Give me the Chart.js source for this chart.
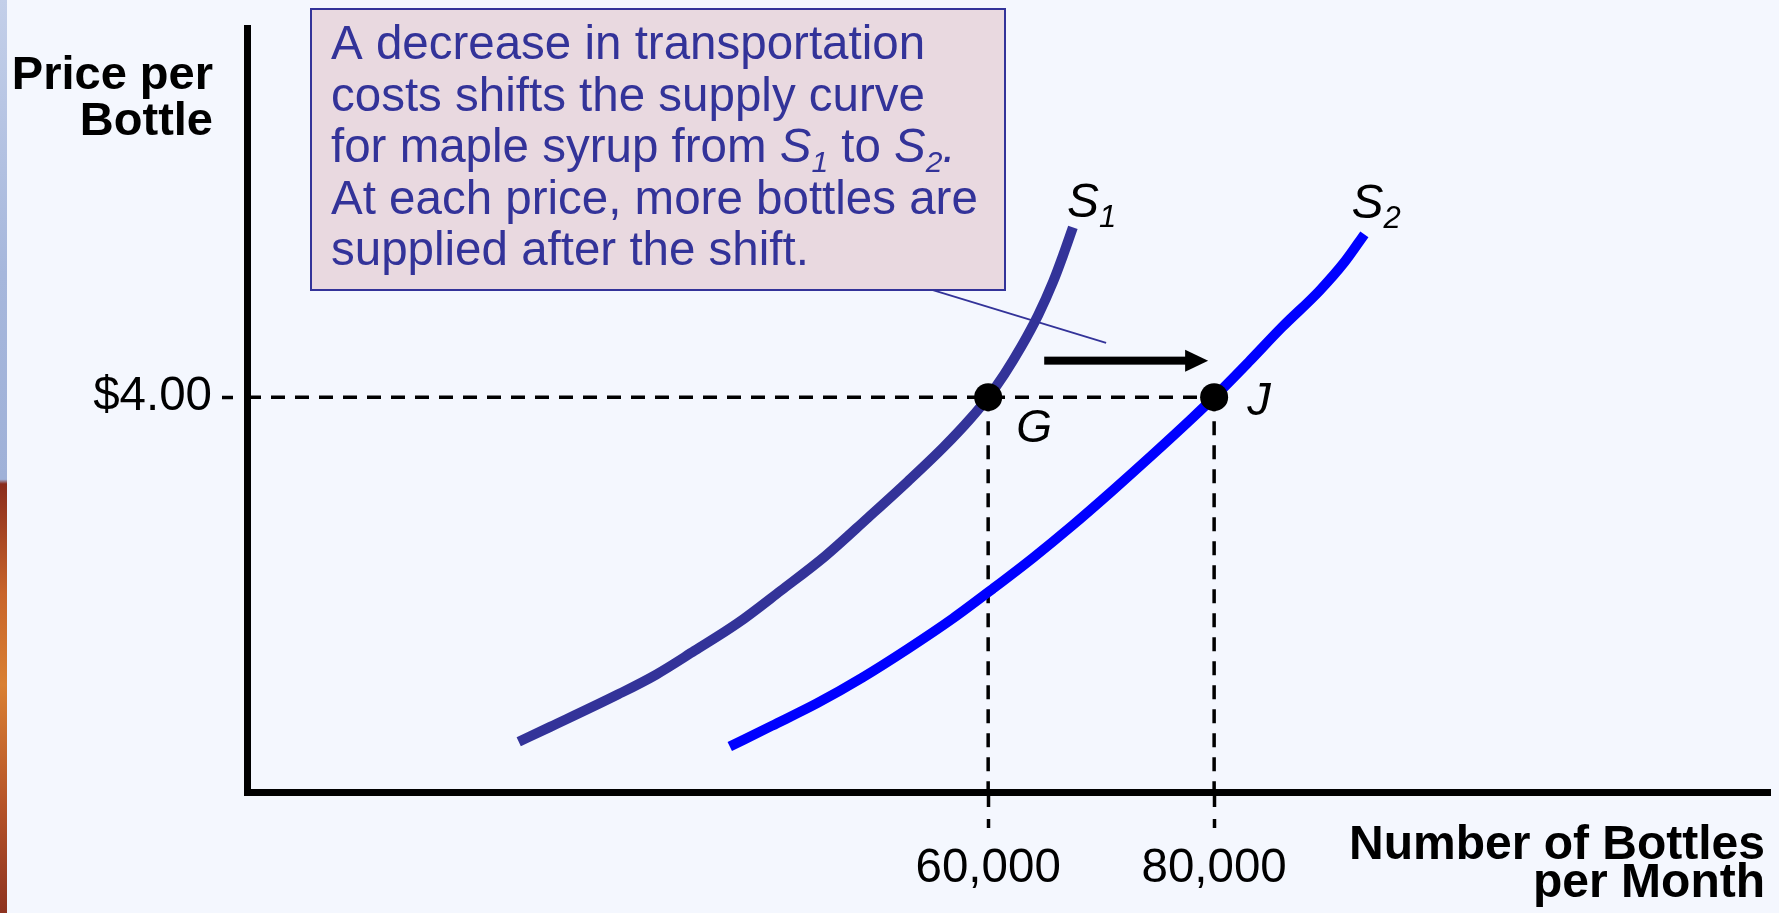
<!DOCTYPE html>
<html>
<head>
<meta charset="utf-8">
<script src="https://cdn.jsdelivr.net/npm/chart.js@4.4.1/dist/chart.umd.min.js"></script>
<style>
    html, body { margin: 0; padding: 0; background: #f4f7fe; }
    #wrap { position: relative; width: 1779px; height: 913px; overflow: hidden; }
    #edge {
        position: absolute; left: 0; top: 0; width: 7px; height: 913px;
        background: linear-gradient(to bottom, #c3cfe9 0%, #a6b7dc 30%, #9fb1d8 52.5%, #8a2c1c 53%, #c8642a 65%, #d98033 75%, #b65428 88%, #8e3320 100%);
    }
    #chart { position: absolute; left: 0; top: 0; }
</style>
</head>
<body>
<div id="wrap">
    <div id="edge"></div>
    <canvas id="chart" width="1779" height="913"></canvas>
</div>
<script>
// supply curves (bottles per month, price per bottle)
const S1_QTY = [18450, 21240, 27260, 30620, 34000, 37830, 41650, 45580, 49380, 52920, 56110, 58410, 60000, 61420, 62920, 64420, 65750, 66640, 67500];
const S1_PRICE = [0.51, 0.66, 0.99, 1.19, 1.43, 1.71, 2.04, 2.39, 2.78, 3.15, 3.50, 3.78, 4.00, 4.23, 4.51, 4.83, 5.17, 5.44, 5.72];
const S2_QTY = [37130, 40840, 44870, 48880, 52890, 56900, 60420, 63940, 67450, 70970, 74480, 77990, 80000, 83010, 86020, 89340, 91550, 93300];
const S2_PRICE = [0.46, 0.67, 0.90, 1.16, 1.45, 1.76, 2.06, 2.37, 2.70, 3.05, 3.41, 3.78, 4.00, 4.35, 4.71, 5.08, 5.37, 5.65];

// equilibrium points G and J
const EQ_LABELS = ["G", "J"];
const EQ_QTY = [60000, 80000];
const EQ_PRICE = [4, 4];

const X_TICKS = [60000, 80000];
const Y_TICKS = [4];
const X_MIN = -5600, X_MAX = 129200;
const Y_MIN = 0, Y_MAX = 7.74;

const FONT = "'Liberation Sans', Arial, Helvetica, sans-serif";
const NAVY = "#333399";
const DASH = [14, 10];

const pts = (q, p) => q.map((v, i) => ({ x: v, y: p[i] }));

const guide = (data) => ({
    label: "guide",
    data: data,
    borderColor: "#000",
    borderWidth: 3.5,
    borderDash: DASH,
    pointRadius: 0,
    tension: 0,
});

function runs(ctx, parts, x, y, size) {
    let cx = x;
    parts.forEach(([text, kind]) => {
        let f = size, dy = 0, style = "";
        if (kind === "i") style = "italic ";
        if (kind === "sub") { style = "italic "; f = Math.round(size * 0.64); dy = size * 0.2; }
        ctx.font = style + f + "px " + FONT;
        ctx.fillText(text, cx, y + dy);
        cx += ctx.measureText(text).width;
    });
}

const notes = {
    id: "notes",
    afterDatasetsDraw(chart) {
        const { ctx } = chart;
        const sx = chart.scales.x, sy = chart.scales.y;
        const px = (v) => sx.getPixelForValue(v);
        const py = (v) => sy.getPixelForValue(v);
        ctx.save();

        // callout box
        ctx.fillStyle = "#e9d9e0";
        ctx.fillRect(311, 9, 694, 281);
        ctx.strokeStyle = NAVY;
        ctx.lineWidth = 2;
        ctx.strokeRect(311, 9, 694, 281);

        // pointer from box
        ctx.beginPath();
        ctx.lineWidth = 1.8;
        ctx.moveTo(px(55040), py(5.086));
        ctx.lineTo(px(70440), py(4.549));
        ctx.stroke();

        ctx.fillStyle = NAVY;
        ctx.textAlign = "left";
        ctx.textBaseline = "alphabetic";
        const size = 47.5;
        const lines = [
            [["A decrease in transportation", "n"]],
            [["costs shifts the supply curve", "n"]],
            [["for maple syrup from ", "n"], ["S", "i"], ["1", "sub"], [" to ", "n"], ["S", "i"], ["2", "sub"], [".", "i"]],
            [["At each price, more bottles are", "n"]],
            [["supplied after the shift.", "n"]],
        ];
        lines.forEach((l, i) => runs(ctx, l, 331, 59 + i * 51.5, size));

        // shift arrow
        const ay = py(4.37), ax1 = px(64960), ax2 = px(79470);
        ctx.fillStyle = "#000";
        ctx.fillRect(ax1, ay - 4, ax2 - ax1 - 20, 8);
        ctx.beginPath();
        ctx.moveTo(ax2, ay);
        ctx.lineTo(ax2 - 23, ay - 11);
        ctx.lineTo(ax2 - 23, ay + 11);
        ctx.closePath();
        ctx.fill();

        // curve labels
        const s1x = px(S1_QTY[S1_QTY.length - 1]), s1y = py(S1_PRICE[S1_PRICE.length - 1]);
        runs(ctx, [["S", "i"], ["1", "sub"]], s1x - 6, s1y - 10, 48);
        const s2x = px(S2_QTY[S2_QTY.length - 1]), s2y = py(S2_PRICE[S2_PRICE.length - 1]);
        runs(ctx, [["S", "i"], ["2", "sub"]], s2x - 13, s2y - 16, 48);

        // point labels
        ctx.font = "italic 46px " + FONT;
        ctx.fillText(EQ_LABELS[0], px(EQ_QTY[0]) + 28, py(EQ_PRICE[0]) + 45);
        ctx.font = "italic 47px " + FONT;
        ctx.fillText(EQ_LABELS[1], px(EQ_QTY[1]) + 33, py(EQ_PRICE[1]) + 18);

        // axis titles
        ctx.font = "bold 47px " + FONT;
        ctx.textAlign = "right";
        ctx.fillText("Price per", 213, 89);
        ctx.fillText("Bottle", 213, 135);
        ctx.font = "bold 48px " + FONT;
        ctx.fillText("Number of Bottles", 1765, 859);
        ctx.fillText("per Month", 1765, 897);

        ctx.restore();
    },
};

new Chart(document.getElementById("chart").getContext("2d"), {
    type: "line",
    data: {
        datasets: [
            {
                label: "equilibrium",
                data: pts(EQ_QTY, EQ_PRICE),
                showLine: false,
                pointRadius: 14,
                pointBackgroundColor: "#000",
                pointBorderWidth: 0,
            },
            {
                label: "S1",
                data: pts(S1_QTY, S1_PRICE),
                borderColor: NAVY,
                borderWidth: 10,
                borderCapStyle: "butt",
                cubicInterpolationMode: "monotone",
                pointRadius: 0,
            },
            {
                label: "S2",
                data: pts(S2_QTY, S2_PRICE),
                borderColor: "#0000ff",
                borderWidth: 10,
                borderCapStyle: "butt",
                cubicInterpolationMode: "monotone",
                pointRadius: 0,
            },
            guide([{ x: X_MIN, y: EQ_PRICE[1] }, { x: EQ_QTY[1], y: EQ_PRICE[1] }]),
            ...EQ_QTY.map((q, i) => guide([{ x: q, y: EQ_PRICE[i] }, { x: q, y: Y_MIN }])),
        ],
    },
    options: {
        responsive: false,
        animation: false,
        events: [],
        layout: { autoPadding: false, padding: { left: 0, top: 28, right: 9, bottom: 0 } },
        scales: {
            x: {
                type: "linear",
                min: X_MIN,
                max: X_MAX,
                afterBuildTicks: (s) => { s.ticks = X_TICKS.map((v) => ({ value: v })); },
                afterFit: (s) => { s.height = 121; s.paddingLeft = 0; s.paddingRight = 0; },
                ticks: {
                    autoSkip: false,
                    maxRotation: 0,
                    padding: 12,
                    color: "#000",
                    font: { family: FONT, size: 47.5 },
                    callback: (v) => v.toLocaleString("en-US"),
                },
                grid: {
                    drawOnChartArea: false,
                    drawTicks: true,
                    tickLength: 36,
                    tickWidth: 3.5,
                    tickColor: "#000",
                    tickBorderDash: [11, 12],
                },
                border: { display: true, color: "#000", width: 7 },
            },
            y: {
                min: Y_MIN,
                max: Y_MAX,
                afterBuildTicks: (s) => { s.ticks = Y_TICKS.map((v) => ({ value: v })); },
                afterFit: (s) => { s.width = 247; s.paddingTop = 0; s.paddingBottom = 0; },
                ticks: {
                    padding: 10,
                    color: "#000",
                    font: { family: FONT, size: 47.5 },
                    callback: (v) => "$" + v.toFixed(2),
                },
                grid: {
                    drawOnChartArea: false,
                    drawTicks: true,
                    tickLength: 25,
                    tickWidth: 3.5,
                    tickColor: "#000",
                    tickBorderDash: [11, 12],
                },
                border: { display: true, color: "#000", width: 7 },
            },
        },
        plugins: {
            legend: { display: false },
            tooltip: { enabled: false },
        },
    },
    plugins: [notes],
});
</script>
</body>
</html>
